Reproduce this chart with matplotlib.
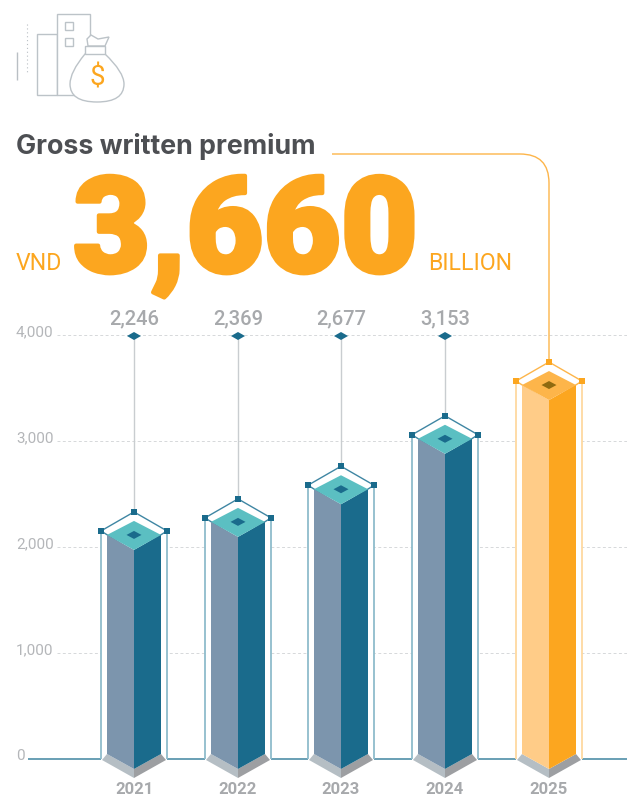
import matplotlib
matplotlib.use("Agg")
import matplotlib.pyplot as plt
import matplotlib.patheffects as pe
from matplotlib.patches import Polygon, PathPatch, Rectangle
from matplotlib.path import Path

# data
years = ["2021", "2022", "2023", "2024", "2025"]
values = [2246, 2369, 2677, 3153, 3660]
value_labels = ["2,246", "2,369", "2,677", "3,153", ""]
ticks = [0, 1000, 2000, 3000, 4000]
tick_labels = ["0", "1,000", "2,000", "3,000", "4,000"]

W, H = 627, 799
BASE_PX = 759
PX_PER_UNIT = 0.106
DARK = "#4d4f53"
ORANGE = "#fca61f"
GREY = "#a7a9ac"
TEAL = "#1a6b8c"

BLUE_STYLE = dict(left="#7c95ad", right=TEAL, top="#5bbfc2", dot=TEAL,
                  frame="#3f86a3", pale="#8fbccb", marker=TEAL, stem="#c9cdd0")
ORANGE_STYLE = dict(left="#ffcc88", right=ORANGE, top="#fdb54a", dot="#8f6a10",
                    frame="#fdb54a", pale="#fed9a0", marker=ORANGE, stem="#fdc97a")

plt.rcParams["font.family"] = ["Roboto", "DejaVu Sans"]

fig = plt.figure(figsize=(W / 100, H / 100), dpi=100)
ax = fig.add_axes([0, 0, 1, 1])
ax.set_xlim(0, W)
ax.set_ylim((BASE_PX - H) / PX_PER_UNIT, BASE_PX / PX_PER_UNIT)
ax.axis("off")


def py(px):
    # pixel row -> data value
    return (BASE_PX - px) / PX_PER_UNIT


def dy(px):
    return px / PX_PER_UNIT


def poly(pts, color, z=3, **kw):
    ax.add_patch(Polygon(pts, closed=True, facecolor=color, edgecolor="none", zorder=z, **kw))


def line(xs, ys, color, lw=1.0, z=2, **kw):
    ax.plot(xs, ys, color=color, lw=lw, zorder=z, solid_capstyle="butt", **kw)


# grid and axis
for t, lab in zip(ticks, tick_labels):
    if t > 0:
        ax.plot([57, W], [t, t], color="#d6d8da", lw=0.7, dashes=(3, 2.5), zorder=1)
    ax.text(16, t + dy(3), lab, fontsize=11, color="#b4b6b9", ha="left", va="center")
line([28, W], [0, 0], "#4f8fa8", lw=1.2, z=1)

# bars
for i, (x, v) in enumerate(zip([134, 238, 341, 445, 549], values)):
    st = ORANGE_STYLE if i == 4 else BLUE_STYLE
    hw, fw = 27, 33

    # white frame box hides grid and baseline
    ax.add_patch(Rectangle((x - fw, 0 - dy(3)), 2 * fw, v - dy(10) + dy(3), facecolor="white",
                           edgecolor="none", zorder=2))
    poly([(x - fw, v - dy(10)), (x, v + dy(9)), (x + fw, v - dy(10)), (x, v - dy(31))], "white", z=2)

    # base
    poly([(x - 32, dy(-1)), (x, dy(-19)), (x, dy(-10)), (x - 27, dy(5))], "#b5bec4", z=3)
    poly([(x + 32, dy(-1)), (x, dy(-19)), (x, dy(-10)), (x + 27, dy(5))], "#9d9fa2", z=3)

    # faces
    side = v - dy(14)
    front = v - dy(29)
    poly([(x - hw, side), (x, front), (x, dy(-10)), (x - hw, dy(5))], st["left"], z=4)
    poly([(x + hw, side), (x, front), (x, dy(-10)), (x + hw, dy(5))], st["right"], z=4)
    poly([(x, v), (x + hw, side), (x, front), (x - hw, side)], st["top"], z=5)
    poly([(x, side + dy(4)), (x + 7.5, side), (x, side - dy(4)), (x - 7.5, side)], st["dot"], z=6)

    # frame
    line([x - fw, x, x + fw], [v - dy(10), v + dy(9), v - dy(10)], st["frame"], lw=1.0, z=5)
    line([x - fw, x, x + fw], [v - dy(10), v - dy(31), v - dy(10)], st["frame"], lw=1.0, z=3)
    for fx in (x - fw, x + fw):
        line([fx, fx], [0, v - dy(10)], st["pale"], lw=1.3, z=3)
    ax.plot([x - fw, x, x + fw], [v - dy(10), v + dy(9), v - dy(10)], ls="none", marker="s", ms=3.8,
            color=st["marker"], mew=0, zorder=7)

    # stems and value tags
    if i < 4:
        line([x, x], [v + dy(9), 4000], st["stem"], lw=1.0, z=2)
        poly([(x - 7, 4000 - dy(1)), (x, 4000 + dy(3)), (x + 7, 4000 - dy(1)), (x, 4000 - dy(5))], TEAL, z=6)
        ax.text(x, py(319), value_labels[i], fontsize=14.5, fontweight="medium", color=GREY,
                ha="center", va="center")
    ax.text(x, py(790), years[i], fontsize=12, fontweight="bold", color=GREY, ha="center", va="center")

# connector from headline to the 2025 bar
conn = Path([(332, py(154)), (520, py(154)), (549, py(154)), (549, py(183)), (549, py(359))],
            [Path.MOVETO, Path.LINETO, Path.CURVE3, Path.CURVE3, Path.LINETO])
ax.add_patch(PathPatch(conn, facecolor="none", edgecolor="#fdb54a", lw=1.0, zorder=2))

# headline
ax.text(16, py(147), "Gross written premium", fontsize=19.3, fontweight="bold", color=DARK,
        ha="left", va="center", family=["Inter", "DejaVu Sans"])
ax.text(16, py(263), "VND", fontsize=16.7, color=ORANGE, ha="left", va="center")
ax.text(428, py(263), "BILLION", fontsize=16.7, color=ORANGE, ha="left", va="center")
ax.text(73, py(272), "3,660", fontsize=96, fontweight="black", color=ORANGE, ha="left", va="baseline",
        path_effects=[pe.withStroke(linewidth=3, foreground=ORANGE)])

# icon
ICON = "#bcc3c8"
for x0, y0, x1, y1 in [(37, 34, 57, 95), (57, 14, 90, 95), (65, 22, 73, 30), (65, 38, 73, 46)]:
    ax.add_patch(Rectangle((x0, py(y1)), x1 - x0, py(y0) - py(y1), facecolor="white", edgecolor=ICON, lw=1.0, zorder=2))
line([16.5, 16.5], [py(52), py(80)], "#b9bfc4", lw=1.0)
ax.plot([26.5, 26.5], [py(24), py(74)], color="#b9bfc4", lw=0.8, dashes=(1, 2.5), zorder=2)
verts = [(85, py(54)), (70, py(72)), (70, py(84)), (70, py(102)), (97, py(102)),
         (124, py(102)), (124, py(84)), (124, py(72)), (105, py(54)), (85, py(54))]
codes = [Path.MOVETO, Path.CURVE3, Path.CURVE3, Path.CURVE3, Path.CURVE3,
         Path.CURVE3, Path.CURVE3, Path.CURVE3, Path.CURVE3, Path.CLOSEPOLY]
ax.add_patch(PathPatch(Path(verts, codes), facecolor="white", edgecolor=ICON, lw=1.0, zorder=3))
ax.add_patch(Rectangle((85, py(54)), 20, py(46) - py(54), facecolor="white", edgecolor=ICON, lw=1.0, zorder=4))
ax.add_patch(Polygon([(88, py(46)), (87, py(39)), (91, py(35)), (98, py(39)), (109, py(37)), (105, py(46))],
                     closed=True, facecolor="white", edgecolor=ICON, lw=1.0, zorder=3))
ax.text(97, py(78), "$", fontsize=20, color=ORANGE, ha="center", va="center", zorder=5)

fig.savefig("out.png", dpi=100)
